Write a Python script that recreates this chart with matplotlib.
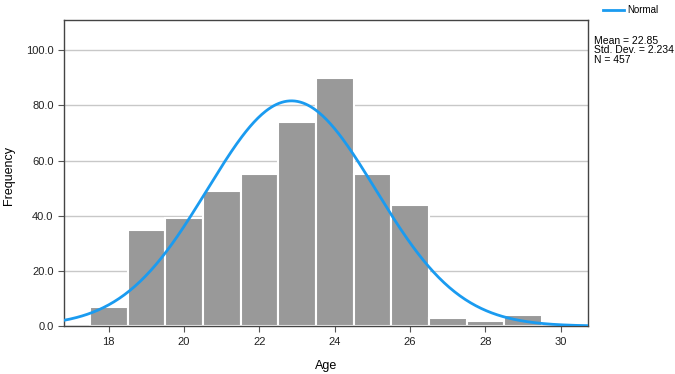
"""Age 히스토그램 + 정규분포 곡선 (SPSS 스타일)."""

import numpy as np
import matplotlib.pyplot as plt
from matplotlib.lines import Line2D

ages = [18, 19, 20, 21, 22, 23, 24, 25, 26, 27, 28, 29]
counts = [7, 35, 39, 49, 55, 74, 90, 55, 44, 3, 2, 4]
mean = 22.85
std = 2.234
n = 457
xticks = [18, 20, 22, 24, 26, 28, 30]
yticks = [0, 20, 40, 60, 80, 100]

plt.rcParams["font.family"] = ["Liberation Sans", "DejaVu Sans"]

fig = plt.figure(figsize=(6.75, 3.74), dpi=100)
ax = fig.add_axes([0.0948, 0.128, 0.776, 0.8185])

ax.bar(ages, counts, width=1.0, color="#999999", edgecolor="white",
       linewidth=1.5, zorder=2)

# 정규분포 곡선 (bin 폭 1)
xs = np.linspace(16.8, 30.8, 400)
ys = n * np.exp(-0.5 * ((xs - mean) / std) ** 2) / (std * np.sqrt(2 * np.pi))
ax.plot(xs, ys, color="#1a9bf0", linewidth=2, zorder=3)

ax.set_xlim(16.81, 30.72)
ax.set_ylim(0, 110.9)
ax.set_xticks(xticks)
ax.set_yticks(yticks)
ax.set_yticklabels([f"{v:.1f}" for v in yticks])
ax.yaxis.grid(True, color="#c8c8c8", linewidth=1, zorder=0)
ax.set_axisbelow(True)
ax.tick_params(labelsize=8, colors="#222222", length=4, color="#555555")

for s in ax.spines.values():
    s.set_color("#444444")
    s.set_linewidth(1)

ax.set_xlabel("Age", fontsize=9, labelpad=10)
# y축 라벨은 그림 왼쪽 끝에 붙여 배치
fig.text(0.013, 0.53, "Frequency", fontsize=9, rotation=90,
         ha="center", va="center")

leg = fig.legend(handles=[Line2D([], [], color="#1a9bf0", linewidth=2)],
                 labels=["Normal"], loc="upper left",
                 bbox_to_anchor=(0.88, 1.01), frameon=False, fontsize=7,
                 handlelength=2.2, handletextpad=0.3)

fig.text(0.88, 0.905, f"Mean = {mean}\nStd. Dev. = {std}\nN = {n}",
         fontsize=7.5, va="top", ha="left", linespacing=0.95)

fig.savefig("out.png")
